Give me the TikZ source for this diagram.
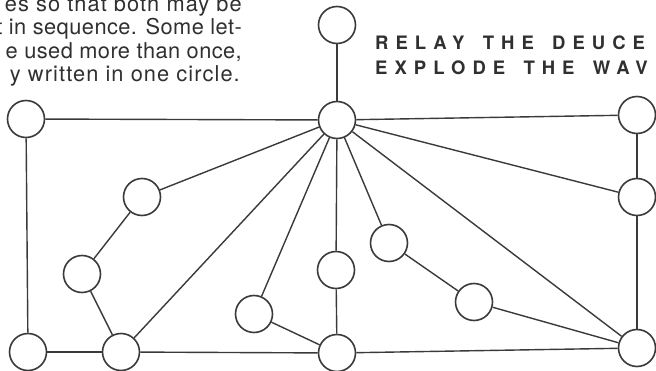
\documentclass[tikz,border=0pt]{standalone}
\usepackage{fontspec}
\setmainfont{TeX Gyre Heros}
\newfontfamily\bodyfont[LetterSpace=5]{TeX Gyre Heros}
\newfontfamily\bodyfontnarrow[LetterSpace=2]{TeX Gyre Heros}
\newfontfamily\capsfont[LetterSpace=38,WordSpace=1.5]{TeX Gyre Heros}
\definecolor{linecol}{HTML}{3A3A3A}
\definecolor{textcol}{HTML}{303030}
\tikzset{
  vtx/.style={circle, draw=linecol, line width=1.6pt, minimum size=37pt, inner sep=0pt, fill=white},
  edge/.style={draw=linecol, line width=1.4pt},
  bodytext/.style={anchor=base east, inner sep=0pt, text=textcol, font=\bodyfont\fontsize{21.8}{23.5}\selectfont},
  bodytextnarrow/.style={bodytext, font=\bodyfontnarrow\fontsize{21.8}{23.5}\selectfont},
  captext/.style={anchor=base west, inner sep=0pt, text=textcol, font=\capsfont\bfseries\fontsize{18.5}{20}\selectfont}
}
\begin{document}
\begin{tikzpicture}[x=1pt,y=-1pt]
\fill[white] (0,0) rectangle (656,371);
\useasboundingbox (0,0) rectangle (656,371);
% texts
\node[bodytext] (t1) at (242,11.5) {es so that both may be};
\node[bodytextnarrow] (t2) at (242,35) {t in sequence. Some let-};
\node[bodytextnarrow] (t3) at (242,58.5) {e used more than once,};
\node[bodytext] (t4) at (240,82) {y written in one circle.};
\node[captext] (c1) at (375,50) {RELAY THE DEUCE};
\node[captext] (c2) at (375,75) {EXPLODE THE WAV};
% vertices
\node[vtx] (T)  at (337,25) {};
\node[vtx] (H)  at (337,120) {};
\node[vtx] (TL) at (26,119) {};
\node[vtx] (TR) at (637,115) {};
\node[vtx] (R2) at (637,197) {};
\node[vtx] (BR) at (637,348) {};
\node[vtx] (BL) at (28,352) {};
\node[vtx] (B2) at (121,352) {};
\node[vtx] (BM) at (337,353) {};
\node[vtx] (M)  at (336,270) {};
\node[vtx] (N1) at (389,243) {};
\node[vtx] (N2) at (474,302) {};
\node[vtx] (L1) at (142,197) {};
\node[vtx] (L2) at (82,274) {};
\node[vtx] (L3) at (254,314) {};
% edges
\draw[edge] (T) -- (H);
\draw[edge] (TL) -- (H);
\draw[edge] (TL) -- (BL);
\draw[edge] (BL) -- (B2);
\draw[edge] (B2) -- (BM);
\draw[edge] (BM) -- (BR);
\draw[edge] (H) -- (TR);
\draw[edge] (TR) -- (R2);
\draw[edge] (R2) -- (BR);
\draw[edge] (H) -- (R2);
\draw[edge] (H) -- (BR);
\draw[edge] (H) -- (L1);
\draw[edge] (L1) -- (L2);
\draw[edge] (L2) -- (B2);
\draw[edge] (H) -- (B2);
\draw[edge] (H) -- (L3);
\draw[edge] (L3) -- (BM);
\draw[edge] (H) -- (M);
\draw[edge] (M) -- (BM);
\draw[edge] (H) -- (N1);
\draw[edge] (N1) -- (N2);
\draw[edge] (N2) -- (BR);
\end{tikzpicture}
\end{document}
